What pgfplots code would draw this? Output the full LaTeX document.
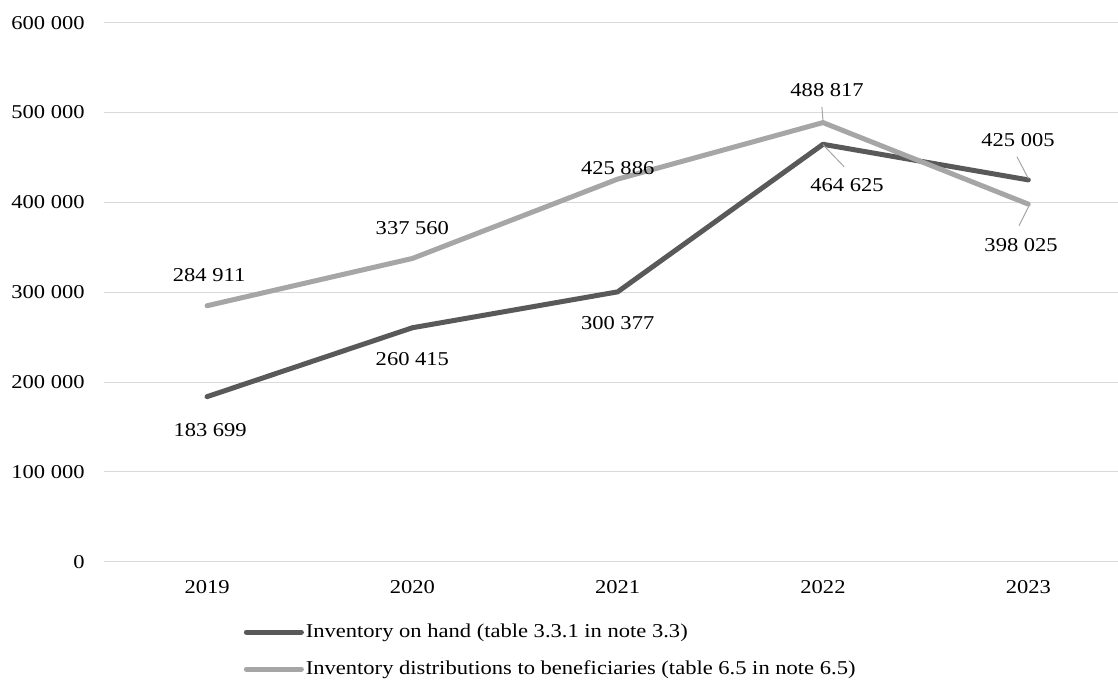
\documentclass[border=0pt]{standalone}
\usepackage{pgfplots}
\pgfplotsset{compat=1.18}
\usepackage{fontspec}
\setmainfont[FakeStretch=1.15]{Liberation Serif}
\definecolor{darkline}{HTML}{595959}
\definecolor{lightline}{HTML}{A6A6A6}
\definecolor{gridc}{HTML}{D9D9D9}
\definecolor{leader}{HTML}{A6A6A6}
\newcommand{\lf}{\fontsize{9.8}{11.6}\selectfont}
\begin{document}
\lf
\begin{tikzpicture}
\begin{axis}[
 scale only axis, width=506.8pt, height=269.5pt,
 xmin=-0.5, xmax=4.437, ymin=0, ymax=600000,
 scaled y ticks=false,
 axis line style={draw=none}, major tick length=0pt,
 xtick={0,1,2,3,4}, xticklabels={2019,2020,2021,2022,2023},
 ytick={0,100000,200000,300000,400000,500000,600000},
 yticklabels={0,100 000,200 000,300 000,400 000,500 000,600 000},
 ymajorgrids, grid style={gridc, line width=0.5pt},
 tick label style={font=\lf, inner sep=0pt},
 yticklabel style={anchor=east, xshift=-9.7pt},
 xticklabel style={anchor=north, yshift=-9.2pt},
 clip=false,
 legend style={draw=none, fill=none, at={(0.1313,-0.1058)}, anchor=north west,
   nodes={inner sep=0pt, text height=7pt, text depth=2pt}, row sep=9.5pt,
   font=\lf},
 legend cell align=left,
 legend image code/.code={\draw[#1, line cap=round] (0pt,0pt) -- (27.5pt,0pt);},
]
\addplot[darkline, line width=2.5pt, line cap=round, line join=round] coordinates {(0,183699)(1,260415)(2,300377)(3,464625)(4,425005)};
\addlegendentry{\hspace{1pt}Inventory on hand (table 3.3.1 in note 3.3)}
\addplot[lightline, line width=2.5pt, line cap=round, line join=round] coordinates {(0,284911)(1,337560)(2,425886)(3,488817)(4,398025)};
\addlegendentry{\hspace{1pt}Inventory distributions to beneficiaries (table 6.5 in note 6.5)}
% leader lines
\draw[leader, line width=0.5pt] (axis cs:2.995,506000) -- (axis cs:3.0,491000);
\draw[leader, line width=0.5pt] (axis cs:3.0,464200) -- (axis cs:3.103,439700);
\draw[leader, line width=0.5pt] (axis cs:3.945,450800) -- (axis cs:4.0,426500);
\draw[leader, line width=0.5pt] (axis cs:4.005,397000) -- (axis cs:3.955,374000);
% data labels
\begin{scope}[every node/.style={inner sep=0pt, font=\lf}]
\node at (axis cs:0.01,319500) {284 911};
\node at (axis cs:0.015,146900) {183 699};
\node at (axis cs:1,371800) {337 560};
\node at (axis cs:1,226000) {260 415};
\node at (axis cs:2,438600) {425 886};
\node at (axis cs:2,266000) {300 377};
\node at (axis cs:3.02,525400) {488 817};
\node at (axis cs:3.117,419700) {464 625};
\node at (axis cs:3.95,469800) {425 005};
\node at (axis cs:3.965,352900) {398 025};
\end{scope}
\end{axis}
\pgfresetboundingbox
\useasboundingbox (-52.2pt,-60.5pt) rectangle (506.8pt,280.85pt);
\end{tikzpicture}
\end{document}
